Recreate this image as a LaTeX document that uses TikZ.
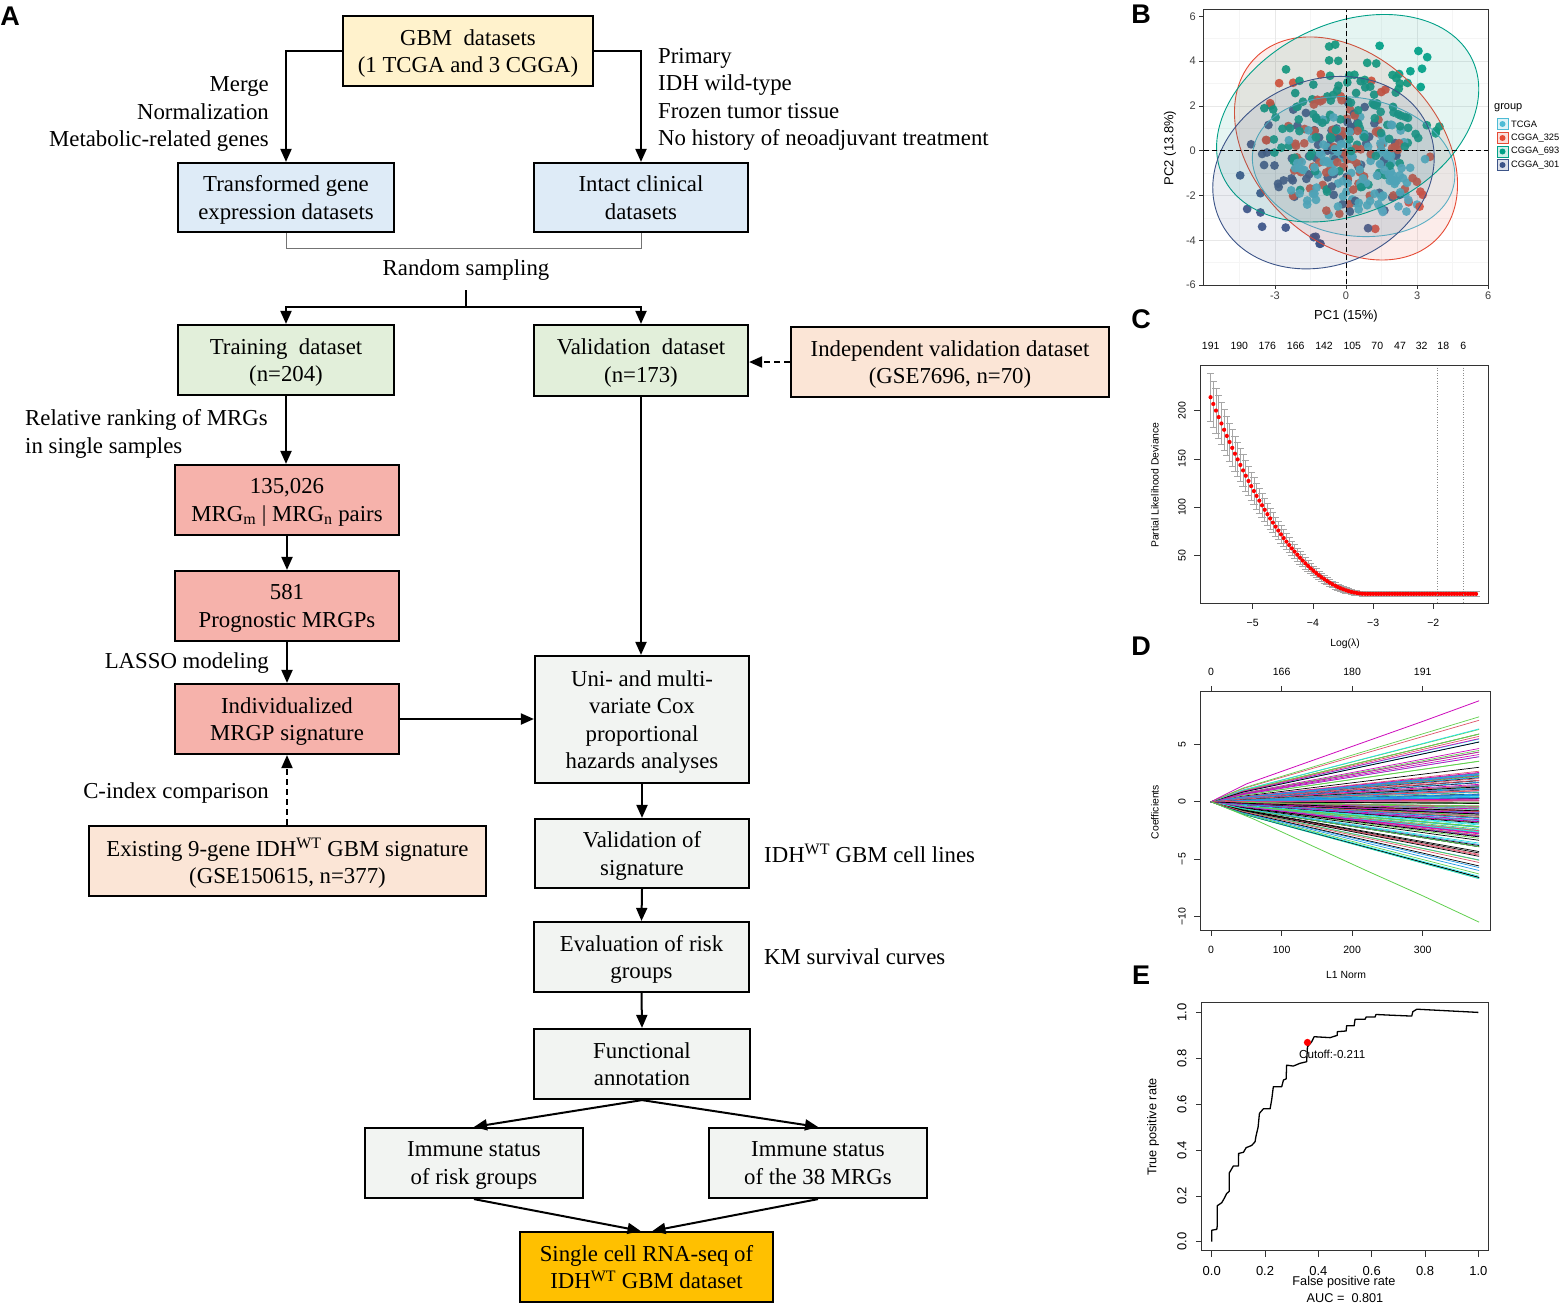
\documentclass[tikz,border=0pt]{standalone}
\usepackage{fontspec}
\setmainfont{Liberation Serif}
\newfontfamily\sansf{Liberation Sans}
\usetikzlibrary{arrows.meta}
\definecolor{cYel}{HTML}{FFF2CC}
\definecolor{cBlu}{HTML}{DEEBF7}
\definecolor{cGrn}{HTML}{E2EFDA}
\definecolor{cPch}{HTML}{FBE5D6}
\definecolor{cPnk}{HTML}{F6B2AB}
\definecolor{cGry}{HTML}{F2F4F2}
\definecolor{cOrg}{HTML}{FFC000}
\definecolor{cTC}{HTML}{4DBBD5}
\definecolor{cRd}{HTML}{E64B35}
\definecolor{cGn}{HTML}{00A087}
\definecolor{cNv}{HTML}{3C5488}
\definecolor{dcol0}{HTML}{000000}
\definecolor{dcol1}{HTML}{DF536B}
\definecolor{dcol2}{HTML}{61D04F}
\definecolor{dcol3}{HTML}{2297E6}
\definecolor{dcol4}{HTML}{28E2E5}
\definecolor{dcol5}{HTML}{CD0BBC}
\newcommand\pcaPt[6]{%
  \pgfmathsetmacro\pRr{min(2.1,sqrt(-2*ln(0.002+0.996*rnd)))}%
  \pgfmathsetmacro\pTh{360*rnd}%
  \pgfmathsetmacro\pU{(\pRr)*cos(\pTh)*(#3)/2.8}%
  \pgfmathsetmacro\pV{(\pRr)*sin(\pTh)*(#4)/2.8}%
  \pgfmathsetmacro\pX{(#1)+(\pU)*cos(#5)-(\pV)*sin(#5)}%
  \pgfmathsetmacro\pY{(#2)+(\pU)*sin(#5)+(\pV)*cos(#5)}%
  \fill[#6, fill opacity=0.92] (\pX,\pY) circle[radius=4.4pt];%
}
\begin{document}
\begin{tikzpicture}[x=1pt,y=-1pt,
  fbox/.style={draw, line width=2.2pt, align=center, inner sep=0pt, font=\fontsize{22.8}{27.5}\selectfont, text depth=0pt},
  ftxt/.style={inner sep=0pt, font=\fontsize{22.8}{27.5}\selectfont, text depth=0pt},
  arr/.style={line width=2pt, -{Triangle[length=13pt,width=11pt]}},
  dsh/.style={dash pattern=on 6pt off 4pt},
  plab/.style={font=\sansf\bfseries\fontsize{27}{27}\selectfont, inner sep=0pt},
  btick/.style={font=\sansf\fontsize{11}{12}\selectfont, text=black!75, inner sep=0pt},
  rtick/.style={font=\sansf\fontsize{10.5}{12}\selectfont, inner sep=0pt},
  etick/.style={font=\sansf\fontsize{13}{14}\selectfont, inner sep=0pt},
  rlab/.style={font=\sansf\fontsize{10.4}{12}\selectfont, inner sep=0pt},
  elab/.style={font=\sansf\fontsize{12.7}{14}\selectfont, inner sep=0pt},
  frm/.style={line width=0.9pt, draw=black!80},
  tk/.style={line width=0.7pt, draw=black!80},
  gMinor/.style={line width=0.5pt, draw=black!4},
  gMajor/.style={line width=0.8pt, draw=black!9}
]
\useasboundingbox (0,0) rectangle (1561,1304);
\fill[white] (0,0) rectangle (1561,1304);

% ================= Panel A =================
\node[plab] (labA) at (10,16) {A};
\node[fbox, fill=cYel, minimum width=250pt, minimum height=70pt] (gbm) at (468,51) {GBM\ \ datasets\\(1 TCGA and 3 CGGA)};
\node[fbox, fill=cBlu, minimum width=216pt, minimum height=69pt] (trans) at (286,197.5) {Transformed gene\\expression datasets};
\node[fbox, fill=cBlu, minimum width=214pt, minimum height=69pt] (intact) at (641,197.5) {Intact clinical\\datasets};
\node[fbox, fill=cGrn, minimum width=216pt, minimum height=70pt] (train) at (286,360) {Training\ \ dataset\\(n=204)};
\node[fbox, fill=cGrn, minimum width=214pt, minimum height=71pt] (valid) at (641,360.5) {Validation\ \ dataset\\(n=173)};
\node[fbox, fill=cPch, minimum width=318pt, minimum height=70pt] (indep) at (950,362) {Independent validation dataset\\(GSE7696, n=70)};
\node[fbox, fill=cPnk, minimum width=224pt, minimum height=70pt] (pairs) at (287,500) {135,026\\MRG\textsubscript{m} | MRG\textsubscript{n} pairs};
\node[fbox, fill=cPnk, minimum width=224pt, minimum height=70pt] (prog) at (287,606) {581\\Prognostic MRGPs};
\node[fbox, fill=cPnk, minimum width=224pt, minimum height=70pt] (indiv) at (287,719) {Individualized\\MRGP signature};
\node[fbox, fill=cPch, minimum width=397pt, minimum height=70pt] (exist) at (287.5,861) {Existing 9-gene IDH\textsuperscript{WT} GBM signature\\(GSE150615, n=377)};
\node[fbox, fill=cGry, minimum width=214pt, minimum height=127pt] (uni) at (642,719.5) {Uni- and multi-\\variate Cox\\proportional\\hazards analyses};
\node[fbox, fill=cGry, minimum width=214pt, minimum height=69pt] (valsig) at (642,853.5) {Validation of\\signature};
\node[fbox, fill=cGry, minimum width=215pt, minimum height=70pt] (evalr) at (641.5,957) {Evaluation of risk\\groups};
\node[fbox, fill=cGry, minimum width=216pt, minimum height=70pt] (func) at (642,1064) {Functional\\annotation};
\node[fbox, fill=cGry, minimum width=218pt, minimum height=70pt] (imm1) at (474,1163) {Immune status\\of risk groups};
\node[fbox, fill=cGry, minimum width=218pt, minimum height=70pt] (imm2) at (818,1163) {Immune status\\of the 38 MRGs};
\node[fbox, fill=cOrg, minimum width=253pt, minimum height=70pt] (single) at (646.5,1267) {Single cell RNA-seq of\\IDH\textsuperscript{WT} GBM dataset};

\node[ftxt, anchor=east, align=right] (tMerge) at (269,112) {Merge\\Normalization\\Metabolic-related genes};
\node[ftxt, anchor=west, align=left] (tPrim) at (658,97) {Primary\\IDH wild-type\\Frozen tumor tissue\\No history of neoadjuvant treatment};
\node[ftxt] (tRand) at (466,268) {Random sampling};
\node[ftxt, anchor=west, align=left] (tRel) at (25,431.5) {Relative ranking of MRGs\\in single samples};
\node[ftxt, anchor=east] (tLasso) at (269,661) {LASSO modeling};
\node[ftxt, anchor=east] (tCidx) at (269,791) {C-index comparison};
\node[ftxt, anchor=west] (tCell) at (764,853) {IDH\textsuperscript{WT} GBM cell lines};
\node[ftxt, anchor=west] (tKM) at (764,957) {KM survival curves};

\draw[arr] (gbm.west) -| (trans.north);
\draw[arr] (gbm.east) -| (intact.north);
\draw[black!55, line width=1pt] (trans.south) -- ++(0,15) -| (intact.south);
\coordinate (rsTop) at (466,290);
\coordinate (split) at (466,307);
\draw[line width=2pt] (rsTop) -- (split);
\draw[arr] (split) -| (train.north);
\draw[arr] (split) -| (valid.north);
\draw[arr, dsh] (indep.west) -- (indep.west -| valid.east);
\draw[arr] (train.south) -- (train.south |- pairs.north);
\draw[arr] (pairs.south) -- (prog.north);
\draw[arr] (prog.south) -- (indiv.north);
\draw[arr] (indiv.east) -- (indiv.east -| uni.west);
\draw[arr, dsh] (indiv.south |- exist.north) -- (indiv.south);
\draw[arr] (valid.south) -- (valid.south |- uni.north);
\draw[arr] (uni.south) -- (valsig.north);
\draw[arr] (valsig.south) -- (evalr.north);
\draw[arr] (evalr.south) -- (func.north);
\draw[arr] (func.south) -- (imm1.north);
\draw[arr] (func.south) -- (imm2.north);
\draw[arr] (imm1.south) -- ([xshift=-6pt]single.north);
\draw[arr] (imm2.south) -- ([xshift=6pt]single.north);

% ================= Panel B =================
\node[plab] (labB) at (1141,14) {B};
\begin{scope}
  \clip (1203,9) rectangle (1488,285);
  \begin{scope}[shift={(1346pt,-150.7pt)}, x=23.7pt, y=22.4pt]
    \foreach \g in {-4.5,-1.5,1.5,4.5} \draw[gMinor] (\g,-7) -- (\g,7);
    \foreach \g in {-5,-3,-1,1,3,5} \draw[gMinor] (-7,\g) -- (7,\g);
    \foreach \g in {-3,0,3} \draw[gMajor] (\g,-7) -- (\g,7);
    \foreach \g in {-4,-2,0,2,4} \draw[gMajor] (-7,\g) -- (7,\g);
    \pgfmathsetseed{7}
    \foreach \i in {1,...,120}{
      \pcaPt{0.45}{-0.8}{4.3}{3.08}{-9}{cTC}
      \ifnum\i<86 \pcaPt{0}{0.1}{5.41}{4.1}{-45}{cRd}\fi
      \pcaPt{0.07}{1.55}{5.81}{4.23}{25}{cGn}
      \ifnum\i<76 \pcaPt{-0.95}{-0.98}{4.81}{4.12}{24}{cNv}\fi
    }
    \filldraw[draw=cTC, fill=cTC, fill opacity=0.1, line width=0.9pt, rotate around={-9:(0.32,-0.71)}] (0.32,-0.71) ellipse[x radius=4.3, y radius=3.08];
    \filldraw[draw=cRd, fill=cRd, fill opacity=0.1, line width=0.9pt, rotate around={-45:(0,0.1)}] (0,0.1) ellipse[x radius=5.41, y radius=4.1];
    \filldraw[draw=cGn, fill=cGn, fill opacity=0.1, line width=0.9pt, rotate around={25:(0.07,1.45)}] (0.07,1.45) ellipse[x radius=5.81, y radius=4.23];
    \filldraw[draw=cNv, fill=cNv, fill opacity=0.1, line width=0.9pt, rotate around={24:(-0.95,-0.98)}] (-0.95,-0.98) ellipse[x radius=4.81, y radius=4.12];
    \draw[line width=0.9pt, dash pattern=on 5pt off 3pt] (0,-7) -- (0,7);
    \draw[line width=0.9pt, dash pattern=on 5pt off 3pt] (-7,0) -- (7,0);
  \end{scope}
\end{scope}
\draw[frm] (1203,9) rectangle (1488,285);
\foreach \v/\px [count=\k] in {-3/1274.9,0/1346,3/1417.1,6/1488.2}{
  \draw[tk] (\px,285) -- ++(0,4);
  \node[btick, anchor=north] (bx\k) at (\px,292) {\v};
}
\foreach \v/\py [count=\k] in {6/16.3,4/61.1,2/105.9,0/150.7,-2/195.5,-4/240.3,-6/285}{
  \draw[tk] (1203,\py) -- ++(-4,0);
  \node[btick, anchor=east] (by\k) at (1196,\py) {\v};
}
\node[font=\sansf\fontsize{13}{14}\selectfont, inner sep=0pt] (bxl) at (1346,316) {PC1 (15\%)};
\node[font=\sansf\fontsize{13}{14}\selectfont, inner sep=0pt, rotate=90] (byl) at (1170,148) {PC2 (13.8\%)};
\node[font=\sansf\fontsize{11}{12}\selectfont, inner sep=0pt, anchor=west] (bgrp) at (1494,108) {group};
\foreach \c/\lab/\yy [count=\k] in {cTC/TCGA/124,cRd/CGGA\_325/138,cGn/CGGA\_693/151.5,cNv/CGGA\_301/165}{
  \filldraw[draw=\c, fill=\c!18, line width=0.6pt] (1497,{\yy-5.5}) rectangle (1508,{\yy+5.5});
  \fill[\c] (1502.5,\yy) circle[radius=3pt];
  \node[font=\sansf\fontsize{9.3}{10}\selectfont, inner sep=0pt, anchor=west] (bleg\k) at (1511,\yy) {\lab};
}

% ================= Panel C =================
\node[plab] (labC) at (1141,319) {C};
\begin{scope}[shift={(1553.7pt,-603.5pt)}, x=60.2pt, y=0.964pt]
  \foreach \k in {0,...,98}{
    \pgfmathsetmacro\lamX{-5.70+0.045*\k}
    \pgfmathsetmacro\devY{(\lamX < (-3.1)) ? (10+204*(\lamX+3.1)*(\lamX+3.1)/6.76) : (10)}
    \pgfmathsetmacro\errE{0.11*\devY+1.2}
    \draw[black!35, line width=0.6pt] (\lamX,{\devY-\errE}) -- (\lamX,{\devY+\errE});
    \draw[black!35, line width=0.6pt] ({\lamX-0.06},{\devY+\errE}) -- ({\lamX+0.06},{\devY+\errE});
    \draw[black!35, line width=0.6pt] ({\lamX-0.06},{\devY-\errE}) -- ({\lamX+0.06},{\devY-\errE});
  }
  \foreach \k in {0,...,98}{
    \pgfmathsetmacro\lamX{-5.70+0.045*\k}
    \pgfmathsetmacro\devY{(\lamX < (-3.1)) ? (10+204*(\lamX+3.1)*(\lamX+3.1)/6.76) : (10)}
    \fill[red] (\lamX,\devY) circle[radius=2.1pt];
  }
\end{scope}
\draw[black!45, line width=0.6pt, dotted] (1437.7,365) -- (1437.7,603);
\draw[black!45, line width=0.6pt, dotted] (1463.3,365) -- (1463.3,603);
\draw[frm] (1200,365) rectangle (1488,603);
\foreach \v/\px [count=\k] in {−5/1252.7,−4/1312.9,−3/1373.1,−2/1433.3}{
  \draw[tk] (\px,603) -- ++(0,6);
  \node[rtick] (cx\k) at (\px,622.5) {\v};
}
\foreach \v/\py [count=\k] in {50/555.3,100/507.1,150/458.9,200/410.7}{
  \draw[tk] (1200,\py) -- ++(-6,0);
  \node[rtick, rotate=90] (cy\k) at (1182,\py) {\v};
}
\foreach \v/\px [count=\k] in {191/1210.7,190/1239.3,176/1267.3,166/1295.7,142/1324,105/1352.3,70/1377.3,47/1400,32/1421.7,18/1443.3,6/1463.3}{
  \node[rtick] (ct\k) at (\px,346) {\v};
}
\node[rlab] (cxl) at (1345,644) {Log(λ)};
\node[rlab, rotate=90] (cyl) at (1155,485) {Partial Likelihood Deviance};

% ================= Panel D =================
\node[plab] (labD) at (1141,646) {D};
\begin{scope}[shift={(1211pt,-801.7pt)}, x=0.7055pt, y=11.47pt]
  \pgfmathsetseed{11}
  \foreach \i in {1,...,175}{
    \pgfmathsetmacro\dC{max(-6.7,min(5.9,2.6*sqrt(-2*ln(0.002+0.996*rnd))*cos(360*rnd)))}
    \pgfmathtruncatemacro\dK{mod(\i,6)}
    \draw[draw=dcol\dK, line width=0.7pt] (0,0) -- (45,{0.16*(\dC)}) -- (380,\dC);
  }
  \foreach \e/\c in {-6.6/dcol0,-6.5/dcol4,-6.3/dcol2,-6.0/dcol3,-5.6/dcol0,-5.3/dcol1,5.7/dcol1,5.5/dcol5,5.2/dcol0,6.3/dcol2,6.35/dcol4,7.1/dcol1,7.4/dcol2}{
    \draw[draw=\c, line width=0.7pt] (0,0) -- (45,{0.16*(\e)}) -- (380,\e);
  }
  \draw[draw=dcol5, line width=0.8pt] (0,0) -- (50,1.55) -- (300,7.0) -- (380,8.8);
  \draw[draw=dcol2, line width=0.8pt] (0,0) -- (60,-1.5) -- (220,-6.0) -- (300,-8.2) -- (380,-10.5);
\end{scope}
\draw[frm] (1200,691.7) rectangle (1490,930);
\foreach \v/\px [count=\k] in {0/1211,100/1281.6,200/1352.1,300/1422.7}{
  \draw[tk] (\px,930) -- ++(0,6);
  \node[rtick] (dx\k) at (\px,950) {\v};
}
\foreach \v/\px [count=\k] in {0/1211,166/1281.6,180/1352.1,191/1422.7}{
  \draw[tk] (\px,691.7) -- ++(0,-6);
  \node[rtick] (dt\k) at (\px,672) {\v};
}
\foreach \v/\py [count=\k] in {5/744.3,0/801.7,−5/859.1,−10/916.4}{
  \draw[tk] (1200,\py) -- ++(-6,0);
  \node[rtick, rotate=90] (dy\k) at (1182,\py) {\v};
}
\node[rlab] (dxl) at (1346,975) {L1 Norm};
\node[rlab, rotate=90] (dyl) at (1155,812) {Coefficients};

% ================= Panel E =================
\node[plab] (labE) at (1141,975) {E};
\begin{scope}[shift={(1211.7pt,-1241.7pt)}, x=266.7pt, y=229.3pt]
  \draw[line width=1.3pt, line join=round] plot coordinates {(0,0) (0,0.05) (0.019,0.054) (0.021,0.07) (0.021,0.157) (0.0375,0.17) (0.0475,0.19) (0.056,0.21) (0.066,0.22) (0.066,0.30) (0.081,0.33) (0.1,0.33) (0.101,0.385) (0.119,0.39) (0.129,0.41) (0.15,0.42) (0.1625,0.436) (0.166,0.46) (0.174,0.50) (0.179,0.56) (0.194,0.58) (0.219,0.58) (0.225,0.62) (0.231,0.676) (0.2625,0.676) (0.269,0.705) (0.279,0.71) (0.281,0.77) (0.306,0.766) (0.331,0.778) (0.356,0.785) (0.359,0.85) (0.375,0.872) (0.384,0.894) (0.444,0.89) (0.471,0.90) (0.471,0.916) (0.504,0.919) (0.506,0.942) (0.534,0.942) (0.5375,0.97) (0.575,0.97) (0.579,0.98) (0.6125,0.98) (0.616,0.991) (0.669,0.988) (0.75,0.984) (0.754,1.003) (0.769,1.014) (1.0,1.0)};
  \fill[red] (0.359,0.869) circle[radius=3.6pt];
\end{scope}
\node[font=\sansf\fontsize{11.6}{12}\selectfont, inner sep=0pt, anchor=west] (ecut) at (1299,1054) {Cutoff:-0.211};
\draw[frm] (1201.7,1002.7) rectangle (1488.3,1250.7);
\foreach \v [count=\k from 0] in {0.0,0.2,0.4,0.6,0.8,1.0}{
  \draw[tk] ({1211.7+53.33*\k},1250.7) -- ++(0,6);
  \node[etick] (ex\k) at ({1211.7+53.33*\k},1271) {\v};
  \draw[tk] (1201.7,{1241.7-45.86*\k}) -- ++(-6,0);
  \node[etick, rotate=90] (ey\k) at (1182,{1241.7-45.86*\k}) {\v};
}
\node[elab] (exl) at (1344,1282) {False positive rate};
\node[elab] (eauc) at (1345,1298) {AUC =\ \ 0.801};
\node[elab, rotate=90] (eyl) at (1153,1127) {True positive rate};
\end{tikzpicture}
\end{document}
